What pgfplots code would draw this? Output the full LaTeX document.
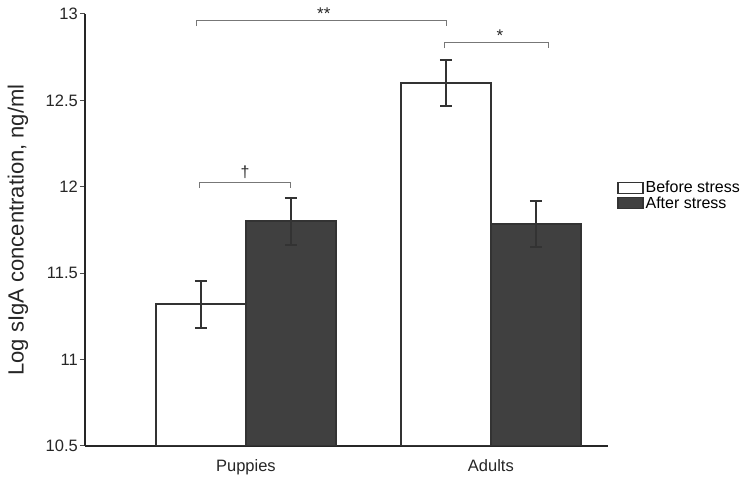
\documentclass[border=0pt]{standalone}
\usepackage{fontspec}
\setmainfont{Liberation Sans}
\usepackage{pgfplots}
\pgfplotsset{compat=1.18}
\definecolor{edge}{HTML}{333333}
\definecolor{darkfill}{HTML}{404040}
\definecolor{brk}{HTML}{777777}
\begin{document}
\begin{tikzpicture}
\path[use as bounding box] (-85bp,-32bp) rectangle (665bp,446bp);
\begin{axis}[
  at={(0,0)}, anchor=south west,
  scale only axis, width=523bp, height=432bp,
  xmin=-0.657, xmax=1.478, ymin=10.5, ymax=13,
  axis x line*=bottom, axis y line*=left,
  axis line style={line width=1.6bp, color=black!85},
  xtick={0,1}, xticklabels={Puppies,Adults},
  x tick style={draw=none},
  ytick={10.5,11,11.5,12,12.5,13},
  y tick style={line width=1bp, color=black!70},
  tick align=outside, major tick length=5bp,
  /pgf/number format/assume math mode=true,
  tick label style={font=\fontsize{16.5bp}{19bp}\selectfont, color=black!85},
  yticklabel style={inner sep=2bp},
  xticklabel style={inner sep=2bp, yshift=-6bp},
  every axis y label/.style={at={(axis description cs:-0.128,0.5)}, rotate=90, anchor=center},
  ylabel={Log sIgA concentration, ng/ml},
  label style={font=\fontsize{22bp}{25bp}\selectfont, color=black!85},
  ybar=0pt, bar width=90bp,
  clip mode=individual,
  legend style={at={(axis description cs:1.017,0.58)}, anchor=west, draw=none, fill=none,
    font=\fontsize{16bp}{18bp}\selectfont, inner sep=0pt, row sep=-2bp,
    /tikz/every even column/.append style={column sep=0bp}},
  legend cell align=left,
  legend image code/.code={\draw[#1,line width=1.5bp] (0bp,-5.5bp) rectangle (25bp,5.5bp);},
]
\addplot[fill=white, draw=edge, line width=2bp,
  error bars/.cd, y dir=both, y explicit,
  error bar style={line width=2.2bp, color=edge, solid},
  error mark options={rotate=90, mark size=6bp, line width=2.2bp, color=edge}]
  coordinates {(0,11.32) +- (0,0.135) (1,12.60) +- (0,0.133)};
\addlegendentry{Before stress}
\addplot[fill=darkfill, draw=edge, line width=2bp,
  error bars/.cd, y dir=both, y explicit,
  error bar style={line width=2.2bp, color=edge, solid},
  error mark options={rotate=90, mark size=6bp, line width=2.2bp, color=edge}]
  coordinates {(0,11.80) +- (0,0.135) (1,11.785) +- (0,0.133)};
\addlegendentry{After stress}
% significance brackets
\draw[brk, line width=0.9bp] (axis cs:-0.2,12.93) |- (axis cs:0.82,12.965) -- (axis cs:0.82,12.93);
\draw[brk, line width=0.9bp] (axis cs:0.812,12.803) |- (axis cs:1.233,12.838) -- (axis cs:1.233,12.803);
\draw[brk, line width=0.9bp] (axis cs:-0.188,11.993) |- (axis cs:0.18,12.028) -- (axis cs:0.18,11.993);
\node[anchor=south, inner sep=0pt, font=\fontsize{17bp}{18bp}\selectfont, color=black!85] at (axis cs:0.318,12.965) {**};
\node[anchor=south, inner sep=0pt, font=\fontsize{17bp}{18bp}\selectfont, color=black!85] at (axis cs:1.037,12.838) {*};
\node[anchor=south, inner sep=0pt, yshift=3bp, font=\fontsize{16bp}{18bp}\selectfont, color=black!85] at (axis cs:-0.004,12.028) {†};
\end{axis}
\end{tikzpicture}
\end{document}
